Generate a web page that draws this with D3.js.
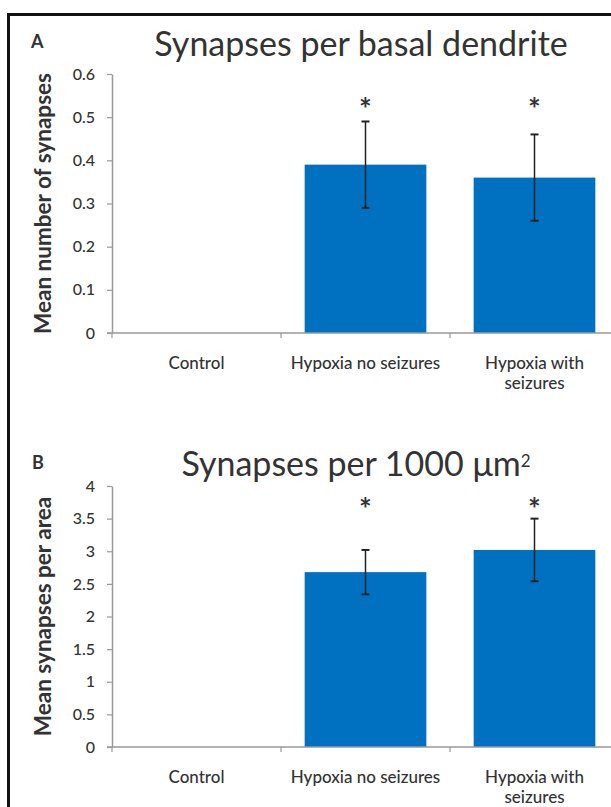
<!DOCTYPE html>
<html>
<head>
<meta charset="utf-8">
<script src="https://cdn.jsdelivr.net/npm/d3@7"></script>
<style>
  body { margin: 0; background: #fff; }
  text { font-family: Lato, "Open Sans", sans-serif; fill: #333; }
</style>
</head>
<body>
<svg id="chart" width="611" height="807"></svg>
<script>
// data
let groups = ["Control", "Hypoxia no seizures", "Hypoxia with seizures"];
let basalMean = [0, 0.39, 0.36];
let basalErr = [0, 0.1, 0.1];
let basalSig = [false, true, true];
let areaMean = [0, 2.68, 3.02];
let areaErr = [0, 0.34, 0.48];
let areaSig = [false, true, true];
let basalTicks = [0, 0.1, 0.2, 0.3, 0.4, 0.5, 0.6];
let basalTickLabels = ["0", "0.1", "0.2", "0.3", "0.4", "0.5", "0.6"];
let areaTicks = [0, 0.5, 1, 1.5, 2, 2.5, 3, 3.5, 4];
let areaTickLabels = ["0", "0.5", "1", "1.5", "2", "2.5", "3", "3.5", "4"];

let svg = d3.select('#chart');

// outer frame of the figure
svg.append("rect")
    .attr("x", 8.5).attr("y", 14.5)
    .attr("width", 700).attr("height", 900)
    .attr("fill", "none")
    .attr("stroke", "#111")
    .attr("stroke-width", 3);

let axisX = 112;
let axisRight = 619;

let x = d3.scaleBand()
    .domain(groups)
    .range([axisX, axisRight])
    .paddingInner(0.28)
    .paddingOuter(0.14);

function drawPanel(opt) {
    let y = d3.scaleLinear().domain([opt.ticks[0], opt.ticks[opt.ticks.length - 1]])
        .range([opt.bottom, opt.top]);

    let g = svg.append("g");

    // panel letter and title
    g.append("text")
        .attr("x", opt.letterX).attr("y", opt.letterY)
        .attr("font-size", "18px").attr("font-weight", "bold")
        .text(opt.letter);
    let title = g.append("text")
        .attr("x", opt.titleX).attr("y", opt.titleY)
        .attr("text-anchor", "middle")
        .attr("font-size", "34px")
        .text(opt.title);
    if (opt.sup) {
        title.append("tspan")
            .attr("dy", "-0.55em")
            .attr("font-size", "17px")
            .text(opt.sup);
    }

    // y axis
    let yAxis = d3.axisLeft(y)
        .tickValues(opt.ticks)
        .tickFormat((d, i) => opt.tickLabels[i])
        .tickSize(5)
        .tickSizeOuter(0)
        .tickPadding(12);
    let ya = g.append("g")
        .attr("transform", "translate(" + axisX + ",0)")
        .call(yAxis);
    ya.select(".domain").attr("stroke", "#999").attr("stroke-width", 1.5);
    ya.selectAll(".tick line").attr("stroke", "#999").attr("stroke-width", 1.2);
    ya.selectAll(".tick text")
        .style("font-size", "16px")
        .style("font-weight", "500")
        .attr("fill", "#333");

    g.append("text")
        .attr("transform", "translate(" + 51 + "," + ((opt.top + opt.bottom) / 2) + ") rotate(-90)")
        .attr("text-anchor", "middle")
        .attr("font-size", "22.5px")
        .attr("font-weight", "bold")
        .text(opt.yLabel);

    // bars
    let data = groups.map((gr, i) => ({ group: gr, mean: opt.mean[i], err: opt.err[i], sig: opt.sig[i] }));
    let shown = data.filter(d => d.mean > 0);

    g.selectAll("rect.bar").data(shown).enter()
        .append("rect")
        .attr("class", "bar")
        .attr("x", d => x(d.group))
        .attr("y", d => y(d.mean))
        .attr("width", x.bandwidth())
        .attr("height", d => y(0) - y(d.mean))
        .attr("fill", "#0070C0");

    // x axis
    let xa = g.append("g");
    xa.append("line")
        .attr("x1", axisX - 5).attr("x2", axisRight)
        .attr("y1", y(0)).attr("y2", y(0))
        .attr("stroke", "#999").attr("stroke-width", 1.5);
    let bounds = groups.map(gr => x(gr) - x.step() * x.paddingInner() / 2);
    xa.selectAll("line.sep").data(bounds).enter()
        .append("line")
        .attr("class", "sep")
        .attr("x1", d => d).attr("x2", d => d)
        .attr("y1", y(0)).attr("y2", y(0) + 5)
        .attr("stroke", "#999").attr("stroke-width", 1.2);

    // category labels
    let wrapped = { "Hypoxia with seizures": ["Hypoxia with", "seizures"] };
    let lbl = g.selectAll("text.cat").data(groups).enter()
        .append("text")
        .attr("class", "cat")
        .attr("x", d => x(d) + x.bandwidth() / 2)
        .attr("y", y(0) + 36)
        .attr("text-anchor", "middle")
        .attr("font-size", "17px")
        .attr("font-weight", "500");
    lbl.each(function(d) {
        let lines = wrapped[d] || [d];
        let t = d3.select(this);
        lines.forEach((ln, i) => {
            t.append("tspan")
                .attr("x", x(d) + x.bandwidth() / 2)
                .attr("dy", i ? 20 : 0)
                .text(ln);
        });
    });

    // error bars
    let eb = g.selectAll("g.err").data(shown).enter()
        .append("g")
        .attr("class", "err")
        .attr("transform", d => "translate(" + (x(d.group) + x.bandwidth() / 2) + ",0)");
    eb.append("line")
        .attr("y1", d => y(d.mean + d.err)).attr("y2", d => y(d.mean - d.err))
        .attr("stroke", "#222").attr("stroke-width", 1.5);
    eb.selectAll("line.cap").data(d => [d.mean + d.err, d.mean - d.err]).enter()
        .append("line")
        .attr("class", "cap")
        .attr("x1", -4).attr("x2", 4)
        .attr("y1", v => y(v)).attr("y2", v => y(v))
        .attr("stroke", "#222").attr("stroke-width", 2);

    // significance stars
    g.selectAll("text.star").data(shown.filter(d => d.sig)).enter()
        .append("text")
        .attr("class", "star")
        .attr("x", d => x(d.group) + x.bandwidth() / 2)
        .attr("y", opt.starY)
        .attr("text-anchor", "middle")
        .attr("font-size", "30px")
        .attr("font-weight", "bold")
        .text("*");
}

drawPanel({
    letter: "A", letterX: 31, letterY: 48,
    title: "Synapses per basal dendrite", titleX: 361, titleY: 56,
    yLabel: "Mean number of synapses",
    ticks: basalTicks, tickLabels: basalTickLabels,
    mean: basalMean, err: basalErr, sig: basalSig,
    top: 74, bottom: 333, starY: 120
});

drawPanel({
    letter: "B", letterX: 32, letterY: 469,
    title: "Synapses per 1000 μm", sup: "2", titleX: 356, titleY: 476,
    yLabel: "Mean synapses per area",
    ticks: areaTicks, tickLabels: areaTickLabels,
    mean: areaMean, err: areaErr, sig: areaSig,
    top: 486, bottom: 747, starY: 520
});
</script>
</body>
</html>
